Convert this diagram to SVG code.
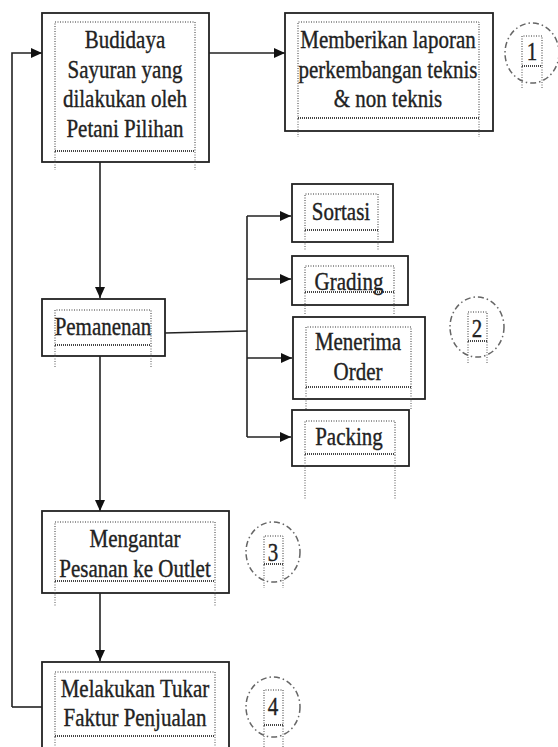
<svg xmlns="http://www.w3.org/2000/svg" width="558" height="747" viewBox="0 0 558 747">
<defs>
<marker id="ah" markerUnits="userSpaceOnUse" markerWidth="12" markerHeight="10" refX="11" refY="5" orient="auto">
<path d="M0,0 L11,5 L0,10 Z" fill="#111"/>
</marker>
</defs>
<style>
.box{fill:#fff;stroke:#222;stroke-width:1.8}
.dot{fill:none;stroke:#333;stroke-width:1;stroke-dasharray:1 1.5}
.wav{fill:none;stroke:#444;stroke-width:2.2;stroke-dasharray:1 1}
.ext{fill:none;stroke:#555;stroke-width:1;stroke-dasharray:1 1.5}
.circ{fill:none;stroke:#666;stroke-width:1.5;stroke-dasharray:6 3 1.5 3}
.con{fill:none;stroke:#222;stroke-width:1.6}
.t{font-family:"Liberation Serif","Times New Roman",serif;font-size:21px;fill:#222;stroke:#222;stroke-width:0.3;text-anchor:middle}
</style>
<rect width="558" height="747" fill="#fff"/>

<g id="connectors">
<path class="con" d="M209,53 L285,53" marker-end="url(#ah)"/>
<path class="con" d="M100,162 L100,298" marker-end="url(#ah)"/>
<path class="con" d="M12,707 L12,53 L42,53" marker-end="url(#ah)"/>
<path class="con" d="M42,707 L12,707"/>
<path class="con" d="M165,333 L247,331"/>
<path class="con" d="M247,216 L247,437"/>
<path class="con" d="M247,216 L291,216" marker-end="url(#ah)"/>
<path class="con" d="M247,279 L291,279" marker-end="url(#ah)"/>
<path class="con" d="M247,358 L292,358" marker-end="url(#ah)"/>
<path class="con" d="M247,437 L291,437" marker-end="url(#ah)"/>
<path class="con" d="M100,356 L100,511" marker-end="url(#ah)"/>
<path class="con" d="M100,593 L100,661" marker-end="url(#ah)"/>
</g>

<g id="budidaya">
<rect class="box" x="42" y="13" width="167" height="149"/>
<path class="dot" d="M55,152 L55,22 L195,22 L195,152"/>
<path class="wav" d="M55,151 L195,151"/>
<path class="ext" d="M55,152 L55,170 M195,152 L195,170"/>
<text class="t" transform="translate(125,48) scale(1,1.15)">Budidaya</text>
<text class="t" transform="translate(125,78) scale(1,1.15)">Sayuran yang</text>
<text class="t" transform="translate(125,107) scale(1,1.15)">dilakukan oleh</text>
<text class="t" transform="translate(125,137) scale(1,1.15)">Petani Pilihan</text>
</g>

<g id="memberikan">
<rect class="box" x="285" y="13" width="208" height="118"/>
<path class="dot" d="M298,119 L298,22 L479,22 L479,119"/>
<path class="wav" d="M298,118 L479,118"/>
<path class="ext" d="M298,119 L298,137 M479,119 L479,137"/>
<text class="t" transform="translate(388,48) scale(1,1.15)">Memberikan laporan</text>
<text class="t" transform="translate(388,78) scale(1,1.15)">perkembangan teknis</text>
<text class="t" transform="translate(388,107) scale(1,1.15)">&amp; non teknis</text>
</g>

<g id="label1">
<ellipse class="circ" cx="532" cy="53" rx="27" ry="30"/>
<path class="dot" d="M522,67 L522,36 L542,36 L542,67"/>
<path class="wav" d="M522,66 L542,66"/>
<path class="ext" d="M522,67 L522,88 M542,67 L542,88"/>
<text class="t" transform="translate(532,60) scale(1,1.15)">1</text>
</g>

<g id="pemanenan">
<rect class="box" x="42" y="299" width="123" height="57"/>
<path class="dot" d="M55,346 L55,310 L151,310 L151,346"/>
<path class="wav" d="M55,345 L151,345"/>
<path class="ext" d="M55,346 L55,368 M151,346 L151,368"/>
<text class="t" transform="translate(103,335) scale(1,1.15)">Pemanenan</text>
</g>

<g id="sortasi">
<rect class="box" x="292" y="184" width="101" height="58"/>
<path class="dot" d="M305,231 L305,194 L378,194 L378,231"/>
<path class="wav" d="M305,230 L378,230"/>
<path class="ext" d="M305,231 L305,250 M378,231 L378,250"/>
<text class="t" transform="translate(341,220) scale(1,1.15)">Sortasi</text>
</g>

<g id="grading">
<rect class="box" x="292" y="256" width="116" height="49"/>
<path class="dot" d="M305,293 L305,266 L394,266 L394,293"/>
<path class="wav" d="M305,292 L394,292"/>
<path class="ext" d="M305,293 L305,315 M394,293 L394,315"/>
<text class="t" transform="translate(349,290) scale(1,1.15)">Grading</text>
</g>

<g id="menerima">
<rect class="box" x="293" y="317" width="132" height="82"/>
<path class="dot" d="M306,388 L306,327 L411,327 L411,388"/>
<path class="wav" d="M306,387 L411,387"/>
<path class="ext" d="M306,388 L306,410 M411,388 L411,410"/>
<text class="t" transform="translate(358,350) scale(1,1.15)">Menerima</text>
<text class="t" transform="translate(358,380) scale(1,1.15)">Order</text>
</g>

<g id="packing">
<rect class="box" x="292" y="410" width="117" height="56"/>
<path class="dot" d="M305,455 L305,421 L395,421 L395,455"/>
<path class="wav" d="M305,454 L395,454"/>
<path class="ext" d="M305,455 L305,500 M395,455 L395,500"/>
<text class="t" transform="translate(349,445) scale(1,1.15)">Packing</text>
</g>

<g id="label2">
<ellipse class="circ" cx="477" cy="327" rx="27" ry="30"/>
<path class="dot" d="M468,342 L468,312 L487,312 L487,342"/>
<path class="wav" d="M468,341 L487,341"/>
<path class="ext" d="M468,342 L468,363 M487,342 L487,363"/>
<text class="t" transform="translate(477,337) scale(1,1.15)">2</text>
</g>

<g id="mengantar">
<rect class="box" x="42" y="511" width="187" height="82"/>
<path class="dot" d="M55,582 L55,522 L215,522 L215,582"/>
<path class="wav" d="M55,581 L215,581"/>
<path class="ext" d="M55,582 L55,606 M215,582 L215,606"/>
<text class="t" transform="translate(135,547) scale(1,1.15)">Mengantar</text>
<text class="t" transform="translate(135,577) scale(1,1.15)">Pesanan ke Outlet</text>
</g>

<g id="label3">
<ellipse class="circ" cx="273" cy="552" rx="27" ry="30"/>
<path class="dot" d="M264,565 L264,536 L283,536 L283,565"/>
<path class="wav" d="M264,564 L283,564"/>
<path class="ext" d="M264,565 L264,588 M283,565 L283,588"/>
<text class="t" transform="translate(273,561) scale(1,1.15)">3</text>
</g>

<g id="melakukan">
<rect class="box" x="42" y="662" width="187" height="92"/>
<path class="dot" d="M55,737 L55,672 L215,672 L215,737"/>
<path class="wav" d="M55,736 L215,736"/>
<path class="ext" d="M55,737 L55,750 M215,737 L215,750"/>
<text class="t" transform="translate(135,697) scale(1,1.15)">Melakukan Tukar</text>
<text class="t" transform="translate(135,726) scale(1,1.15)">Faktur Penjualan</text>
</g>

<g id="label4">
<ellipse class="circ" cx="273" cy="707" rx="27" ry="30"/>
<path class="dot" d="M264,726 L264,690 L283,690 L283,726"/>
<path class="wav" d="M264,725 L283,725"/>
<path class="ext" d="M264,726 L264,747 M283,726 L283,747"/>
<text class="t" transform="translate(273,715) scale(1,1.15)">4</text>
</g>
</svg>
